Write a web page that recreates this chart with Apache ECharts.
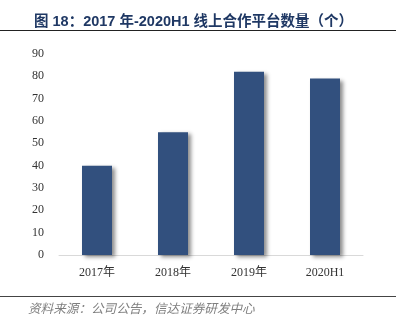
<!DOCTYPE html>
<html>
<head>
<meta charset="utf-8">
<script src="https://cdn.jsdelivr.net/npm/echarts@6/dist/echarts.min.js"></script>
<style>
html,body{margin:0;padding:0;background:#fff;}
#chart{width:398px;height:327px;}
</style>
</head>
<body>
<div id="chart"></div>
<script>
const categories = ['2017年', '2018年', '2019年', '2020H1'];
const values = [40, 55, 82, 79];
const yTicks = [0, 10, 20, 30, 40, 50, 60, 70, 80, 90];
const titleText = '图 18：2017 年-2020H1 线上合作平台数量（个）';
const sourceText = '资料来源：公司公告，信达证券研发中心';

const chart = echarts.init(document.getElementById('chart'), null, {renderer: 'canvas'});
chart.setOption({
  animation: false,
  backgroundColor: '#fff',
  title: {
    text: titleText,
    left: 29,
    top: 10,
    textStyle: {
      color: '#1f3864',
      fontSize: 14.5,
      fontWeight: 'bold',
      fontFamily: 'Liberation Sans, Noto Sans CJK SC, sans-serif'
    }
  },
  grid: {left: 59, right: 35, top: 54, bottom: 72, containLabel: false},
  xAxis: {
    type: 'category',
    data: categories,
    axisLine: {show: true, lineStyle: {color: '#d9d9d9', width: 1}},
    axisTick: {show: false},
    axisLabel: {
      color: '#333',
      fontSize: 12,
      margin: 12,
      fontFamily: 'Liberation Serif, Noto Sans CJK SC, serif'
    }
  },
  yAxis: {
    type: 'value',
    min: yTicks[0],
    max: yTicks[yTicks.length - 1],
    interval: 10,
    splitLine: {show: false},
    axisLine: {show: false},
    axisTick: {show: false},
    axisLabel: {
      color: '#333',
      fontSize: 12,
      margin: 15,
      fontFamily: 'Liberation Serif, serif'
    }
  },
  series: [{
    type: 'bar',
    data: values,
    barWidth: 30,
    itemStyle: {
      color: '#32507e',
      shadowColor: 'rgba(0,0,0,0.45)',
      shadowBlur: 4,
      shadowOffsetX: 3,
      shadowOffsetY: 2
    }
  }],
  graphic: [
    {type: 'line', shape: {x1: 0, y1: 30.5, x2: 396, y2: 30.5}, style: {stroke: '#222', lineWidth: 1}},
    {type: 'line', shape: {x1: 0, y1: 296.5, x2: 396, y2: 296.5}, style: {stroke: '#444', lineWidth: 1}},
    {type: 'text', left: 28, top: 302, style: {
      text: sourceText, fill: '#7f7f7f', fontSize: 12.6, fontStyle: 'italic',
      fontFamily: 'Noto Sans CJK SC, sans-serif'
    }}
  ]
});
</script>
</body>
</html>
